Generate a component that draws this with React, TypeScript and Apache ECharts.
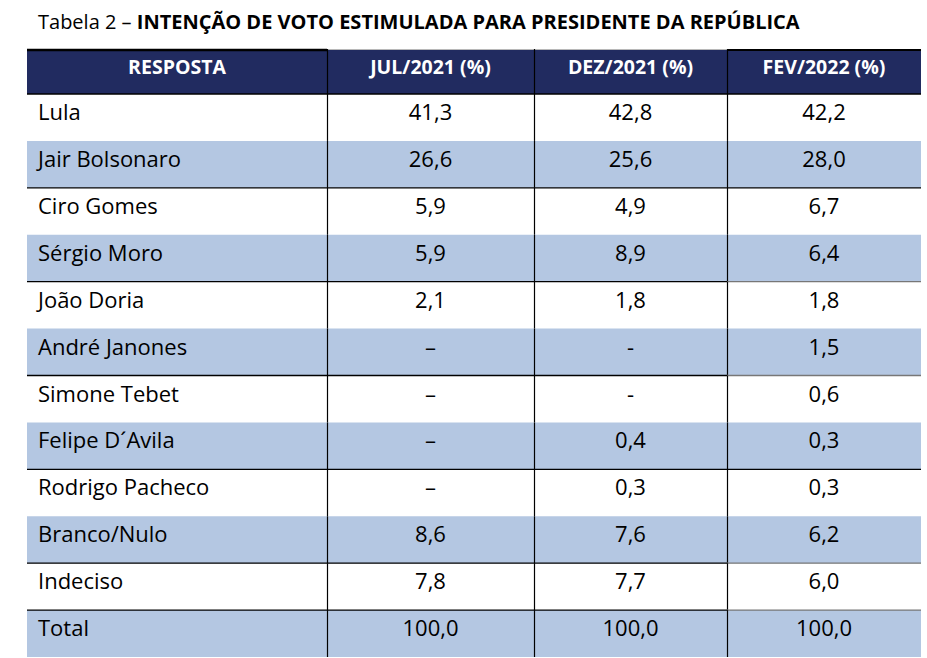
import React, { useEffect, useRef } from "react";
import * as echarts from "echarts";

// ---- data ----
const titlePrefix = "Tabela 2 – ";
const titleMain = "INTENÇÃO DE VOTO ESTIMULADA PARA PRESIDENTE DA REPÚBLICA";
const headers = ["RESPOSTA", "JUL/2021 (%)", "DEZ/2021 (%)", "FEV/2022 (%)"];
const categories = [
  "Lula",
  "Jair Bolsonaro",
  "Ciro Gomes",
  "Sérgio Moro",
  "João Doria",
  "André Janones",
  "Simone Tebet",
  "Felipe D´Avila",
  "Rodrigo Pacheco",
  "Branco/Nulo",
  "Indeciso",
  "Total",
];
const jul2021: (number | null)[] = [41.3, 26.6, 5.9, 5.9, 2.1, null, null, null, null, 8.6, 7.8, 100.0];
const dez2021: (number | null)[] = [42.8, 25.6, 4.9, 8.9, 1.8, null, null, 0.4, 0.3, 7.6, 7.7, 100.0];
const fev2022: (number | null)[] = [42.2, 28.0, 6.7, 6.4, 1.8, 1.5, 0.6, 0.3, 0.3, 6.2, 6.0, 100.0];
const missingMarks = ["–", "-", "–"];

// ---- layout / style ----
const W = 927;
const H = 658;
const TABLE_LEFT = 27;
const TABLE_WIDTH = 894;
const HEADER_TOP = 49;
const BODY_TOP = 94;
const BODY_HEIGHT = 563;
const COL_EDGES = [0, 300, 507, 700, 894];
const NAVY = "#212b60";
const LIGHT = "#b4c7e2";
const FONT = "'Open Sans', 'Noto Sans', sans-serif";
const BODY_SIZE = 22;
const TEXT_OFFSET = 17;
const BORDER_ROWS = [1, 3, 5, 7, 9, 10];
const GRAY_LAST_COL_ROWS = [3, 5, 9, 10];

const fmt = (v: number | null, col: number) =>
  v === null ? missingMarks[col] : v.toFixed(1).replace(".", ",");

export default function App() {
  const ref = useRef<HTMLDivElement>(null);

  useEffect(() => {
    if (!ref.current) return;
    const chart = echarts.init(ref.current, undefined, { renderer: "svg" });
    const columns = [jul2021, dez2021, fev2022];

    const headerChildren: any[] = [
      {
        type: "rect",
        shape: { x: TABLE_LEFT, y: HEADER_TOP, width: TABLE_WIDTH, height: BODY_TOP - HEADER_TOP },
        style: { fill: NAVY },
      },
      {
        type: "line",
        shape: { x1: TABLE_LEFT, y1: HEADER_TOP + 1, x2: TABLE_LEFT + COL_EDGES[1], y2: HEADER_TOP + 1 },
        style: { stroke: "#000", lineWidth: 2.5 },
      },
      {
        type: "line",
        shape: { x1: TABLE_LEFT + COL_EDGES[1], y1: HEADER_TOP + 0.5, x2: TABLE_LEFT + COL_EDGES[3], y2: HEADER_TOP + 0.5 },
        style: { stroke: "#b8b8b8", lineWidth: 1 },
      },
      {
        type: "line",
        shape: { x1: TABLE_LEFT + COL_EDGES[3], y1: HEADER_TOP + 1, x2: TABLE_LEFT + COL_EDGES[4], y2: HEADER_TOP + 1 },
        style: { stroke: "#000", lineWidth: 2 },
      },
      {
        type: "line",
        shape: { x1: TABLE_LEFT, y1: BODY_TOP, x2: TABLE_LEFT + TABLE_WIDTH, y2: BODY_TOP },
        style: { stroke: "#000", lineWidth: 1.3 },
      },
    ];
    for (let e = 1; e <= 3; e++) {
      headerChildren.push({
        type: "line",
        shape: {
          x1: TABLE_LEFT + COL_EDGES[e] + 0.5,
          y1: HEADER_TOP,
          x2: TABLE_LEFT + COL_EDGES[e] + 0.5,
          y2: BODY_TOP,
        },
        style: { stroke: "#000", lineWidth: 1.2 },
      });
    }
    headers.forEach((h, c) => {
      headerChildren.push({
        type: "text",
        x: TABLE_LEFT + (COL_EDGES[c] + COL_EDGES[c + 1]) / 2,
        y: 66,
        style: {
          text: h,
          fill: "#ffffff",
          fontFamily: FONT,
          fontWeight: "bold",
          fontSize: 19.5,
          align: "center",
          verticalAlign: "middle",
        },
      });
    });

    chart.setOption({
      animation: false,
      backgroundColor: "#ffffff",
      title: {
        text: `{r|${titlePrefix}}{b|${titleMain}}`,
        left: 33,
        top: 6,
        textStyle: {
          fontWeight: "normal",
          rich: {
            r: { fontFamily: FONT, fontSize: 20, fontWeight: "normal", color: "#000" },
            b: { fontFamily: FONT, fontSize: 20, fontWeight: "bold", color: "#000" },
          },
        },
      },
      grid: { left: TABLE_LEFT, top: BODY_TOP, width: TABLE_WIDTH, height: BODY_HEIGHT },
      xAxis: { type: "value", min: 0, max: TABLE_WIDTH, show: false },
      yAxis: { type: "category", data: categories, inverse: true, show: false },
      graphic: [{ type: "group", children: headerChildren }],
      series: [
        {
          type: "custom",
          encode: { x: 0, y: 1 },
          data: categories.map((_, i) => [0, i]),
          renderItem: (params: any, api: any) => {
            const i = params.dataIndex;
            const cy = api.coord([0, i])[1];
            const bandH = api.size([0, 1])[1];
            const top = cy - bandH / 2;
            const px = (v: number) => api.coord([v, i])[0];
            const children: any[] = [];
            if (i % 2 === 1) {
              children.push({
                type: "rect",
                z2: 0,
                shape: { x: px(0), y: top, width: px(COL_EDGES[4]) - px(0), height: bandH },
                style: { fill: LIGHT },
              });
            }
            children.push({
              type: "text",
              z2: 5,
              x: px(0) + 11,
              y: top + TEXT_OFFSET,
              style: {
                text: categories[i],
                fill: "#000",
                fontFamily: FONT,
                fontSize: BODY_SIZE,
                align: "left",
                verticalAlign: "middle",
              },
            });
            columns.forEach((col, c) => {
              children.push({
                type: "text",
                z2: 5,
                x: (px(COL_EDGES[c + 1]) + px(COL_EDGES[c + 2])) / 2,
                y: top + TEXT_OFFSET,
                style: {
                  text: fmt(col[i], c),
                  fill: "#000",
                  fontFamily: FONT,
                  fontSize: BODY_SIZE,
                  align: "center",
                  verticalAlign: "middle",
                },
              });
            });
            for (let e = 1; e <= 3; e++) {
              const x = Math.round(px(COL_EDGES[e])) + 0.5;
              children.push({
                type: "line",
                z2: 10,
                shape: { x1: x, y1: top, x2: x, y2: top + bandH },
                style: { stroke: "#000", lineWidth: 1.2 },
              });
            }
            if (BORDER_ROWS.includes(i)) {
              const y = top + bandH;
              children.push({
                type: "line",
                z2: 10,
                shape: { x1: px(0), y1: y, x2: px(COL_EDGES[3]), y2: y },
                style: { stroke: "#000", lineWidth: 1.3 },
              });
              children.push({
                type: "line",
                z2: 10,
                shape: { x1: px(COL_EDGES[3]), y1: y, x2: px(COL_EDGES[4]), y2: y },
                style: { stroke: GRAY_LAST_COL_ROWS.includes(i) ? "#777" : "#000", lineWidth: 1.3 },
              });
            }
            return { type: "group", children };
          },
        },
      ],
    });

    return () => chart.dispose();
  }, []);

  return (
    <div
      ref={ref}
      style={{ position: "fixed", left: 0, top: 0, width: W, height: H, background: "#fff" }}
    />
  );
}
